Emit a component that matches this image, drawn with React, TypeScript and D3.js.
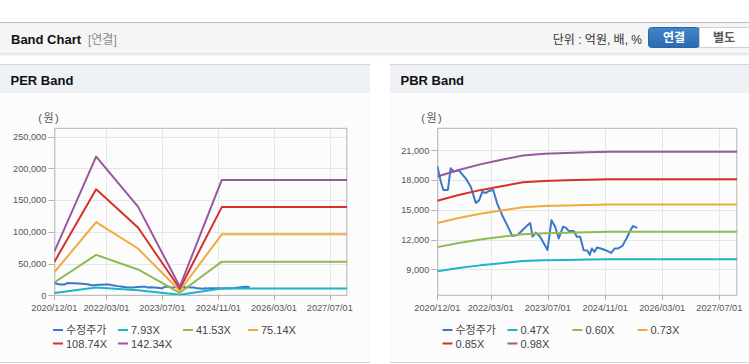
import React from 'react';
import * as d3 from 'd3';

// ---- data ----
const priceDates = [
  '2020-12-01', '2021-01-01', '2021-01-22', '2021-03-01', '2021-03-25', '2021-04-22', '2021-06-01',
  '2021-08-01', '2021-09-13', '2021-10-25', '2021-11-22', '2021-12-19', '2022-01-19', '2022-02-15',
  '2022-03-22', '2022-04-25', '2022-06-07', '2022-07-19', '2022-09-01', '2022-10-16', '2022-11-28',
  '2023-01-10', '2023-02-01', '2023-02-21', '2023-03-19', '2023-04-25', '2023-06-28', '2023-08-01',
  '2023-09-01', '2023-10-01', '2023-11-07', '2023-12-01', '2023-12-25', '2024-02-07', '2024-03-04',
  '2024-04-01', '2024-05-01', '2024-06-01', '2024-06-22', '2024-07-10', '2024-08-01', '2024-08-22',
  '2024-09-25', '2024-11-04', '2024-12-22', '2025-01-19', '2025-02-15', '2025-03-25', '2025-05-01',
  '2025-06-04', '2025-06-25', '2025-08-01',
];
const priceValues = [
  19400, 17800, 17000, 17000, 19200, 18850, 19000,
  18150, 17300, 15700, 15950, 16800, 16700, 16900,
  17000, 15650, 14450, 13450, 12350, 12450, 12950,
  13450, 13650, 12300, 12700, 12300, 10950, 13950,
  13280, 12100, 13280, 13200, 12870, 12870, 12270,
  12270, 10920, 10880, 10450, 11090, 10750, 11200,
  11090, 10920, 10650, 11090, 11090, 11330, 12100,
  12940, 13350, 13170,
];

const perDates = ['2020-12-01', '2021-12-01', '2022-12-01', '2023-12-01', '2024-12-01', '2027-12-01'];
const per793 = [3800, 12200, 7800, 760, 10600, 10600];
const per4153 = [20100, 63700, 40700, 4000, 53000, 53000];
const per7514 = [36300, 115300, 73700, 7200, 96000, 96000];
const per10874 = [52500, 166900, 106700, 10400, 138900, 138900];
const per14234 = [68700, 218500, 139700, 13600, 181700, 181700];

const pbrDates = [
  '2020-12-01', '2021-06-01', '2021-12-01', '2022-06-01', '2022-12-01',
  '2023-06-01', '2023-12-01', '2024-06-01', '2024-12-01', '2027-12-01',
];
const pbr047 = [8800, 9120, 9390, 9610, 9820, 9900, 9940, 9970, 10000, 10000];
const pbr060 = [11230, 11640, 11990, 12270, 12540, 12640, 12690, 12730, 12770, 12770];
const pbr073 = [13670, 14160, 14590, 14930, 15260, 15370, 15440, 15490, 15530, 15530];
const pbr085 = [15910, 16490, 16980, 17380, 17770, 17900, 17980, 18040, 18090, 18090];
const pbr098 = [18350, 19010, 19580, 20040, 20480, 20640, 20730, 20800, 20850, 20850];

const xTickLabels = ['2020/12/01', '2022/03/01', '2023/07/01', '2024/11/01', '2026/03/01', '2027/07/01'];
const perYTicks = [0, 50000, 100000, 150000, 200000, 250000];
const pbrYTicks = [9000, 12000, 15000, 18000, 21000];
const perLegend = ['수정주가', '7.93X', '41.53X', '75.14X', '108.74X', '142.34X'];
const pbrLegend = ['수정주가', '0.47X', '0.60X', '0.73X', '0.85X', '0.98X'];

const colors = ['#3a78c8', '#1fb4c9', '#8fbb52', '#f2a93e', '#d6302b', '#98579f'];
const FONT = '"Liberation Sans", Arial, "Noto Sans CJK KR", sans-serif';

const parse = d3.timeParse('%Y-%m-%d');
const xDomain: [Date, Date] = [parse('2020-12-01')!, parse('2027-12-01')!];

type Series = { dates: string[]; values: number[] };

const BandPanel = ({
  px, pw, title, left, right, yDomain, yTicks, series, legend,
}: {
  px: number; pw: number; title: string; left: number; right: number;
  yDomain: [number, number]; yTicks: number[]; series: Series[]; legend: string[];
}) => {
  const top = 128.3;
  const bottom = 295.3;
  const x = d3.scaleTime().domain(xDomain).range([left, right]);
  const y = d3.scaleLinear().domain(yDomain).range([bottom, top]);
  const fmt = d3.format(',');
  const tickDates = xTickLabels.map(s => d3.timeParse('%Y/%m/%d')(s)!);
  const line = d3.line<[Date, number]>().x(d => x(d[0])).y(d => y(d[1]));
  const legendX = [13, 78, 143, 208];
  const clipId = `clip-${title.replace(' ', '')}`;

  return (
    <g>
      <rect x={px} y={64} width={pw} height={299} fill="#fcfcfc" />
      <rect x={px} y={64} width={pw} height={29} fill="#eef1f6" />
      <line x1={px} x2={px + pw} y1={64.5} y2={64.5} stroke="#d4d4d4" />
      <line x1={px} x2={px + pw} y1={362.5} y2={362.5} stroke="#d4d4d4" />
      <text x={px + 10.5} y={85} fontSize={13} fontWeight="bold" fill="#111" fontFamily={FONT}>{title}</text>

      <text x={left - 5} y={121.5} fontSize={11} fill="#555" fontFamily={FONT} textAnchor="middle" letterSpacing={1.5}>(원)</text>

      {yTicks.map(t => (
        <g key={t}>
          <line x1={left} x2={right} y1={Math.round(y(t)) + 0.5} y2={Math.round(y(t)) + 0.5} stroke="#e6e6e6" />
          <line x1={left - 6} x2={left} y1={Math.round(y(t)) + 0.5} y2={Math.round(y(t)) + 0.5} stroke="#b4b4b4" />
          <text x={left - 8} y={y(t) + 3.3} fontSize={9.2} fill="#555" textAnchor="end" fontFamily={FONT}>{fmt(t)}</text>
        </g>
      ))}
      {tickDates.map((d, i) => (
        <g key={i}>
          <line x1={Math.round(x(d)) + 0.5} x2={Math.round(x(d)) + 0.5} y1={top} y2={bottom} stroke="#e6e6e6" />
          <line x1={Math.round(x(d)) + 0.5} x2={Math.round(x(d)) + 0.5} y1={bottom} y2={bottom + 5} stroke="#b4b4b4" />
          <text x={x(d)} y={310.5} fontSize={9.2} fill="#555" textAnchor="middle" fontFamily={FONT}>{xTickLabels[i]}</text>
        </g>
      ))}
      <rect x={left + 0.5} y={top} width={right - left - 1} height={bottom - top} fill="none" stroke="#b4b4b4" />

      <clipPath id={clipId}>
        <rect x={left} y={top} width={right - left} height={bottom - top} />
      </clipPath>
      <g clipPath={`url(#${clipId})`}>
        {series.map((s, i) => (
          <path
            key={i}
            d={line(s.dates.map((dt, j) => [parse(dt)!, s.values[j]] as [Date, number])) || ''}
            fill="none"
            stroke={colors[i]}
            strokeWidth={2}
            strokeLinejoin="round"
          />
        ))}
      </g>

      {legend.map((name, i) => {
        const row = i < 4 ? 0 : 1;
        const lx = px + legendX[row === 0 ? i : i - 4] + (px > 0 ? 39.5 : 40);
        const ly = row === 0 ? 330 : 343.5;
        return (
          <g key={name}>
            <line x1={lx} x2={lx + 10} y1={ly} y2={ly} stroke={colors[i]} strokeWidth={2} />
            <text x={lx + 13} y={ly + 4} fontSize={11} fill="#444" fontFamily={FONT}>{name}</text>
          </g>
        );
      })}
    </g>
  );
};

export default function App() {
  const priceSeries: Series = { dates: priceDates, values: priceValues };
  const perSeries: Series[] = [
    priceSeries,
    { dates: perDates, values: per793 },
    { dates: perDates, values: per4153 },
    { dates: perDates, values: per7514 },
    { dates: perDates, values: per10874 },
    { dates: perDates, values: per14234 },
  ];
  const pbrSeries: Series[] = [
    priceSeries,
    { dates: pbrDates, values: pbr047 },
    { dates: pbrDates, values: pbr060 },
    { dates: pbrDates, values: pbr073 },
    { dates: pbrDates, values: pbr085 },
    { dates: pbrDates, values: pbr098 },
  ];

  return (
    <div style={{ position: 'fixed', left: 0, top: 0 }}>
      <svg width={749} height={364} style={{ display: 'block', background: '#fff' }}>
        <defs>
          <linearGradient id="shadow" x1="0" x2="0" y1="0" y2="1">
            <stop offset="0" stopColor="#000" stopOpacity={0.12} />
            <stop offset="1" stopColor="#000" stopOpacity={0} />
          </linearGradient>
          <linearGradient id="btn" x1="0" x2="0" y1="0" y2="1">
            <stop offset="0" stopColor="#4285c9" />
            <stop offset="1" stopColor="#2c6aaf" />
          </linearGradient>
        </defs>

        {/* header bar */}
        <rect x={0} y={22} width={749} height={31} fill="#f5f5f5" />
        <line x1={0} x2={749} y1={22.5} y2={22.5} stroke="#bdbdbd" />
        <rect x={0} y={53} width={749} height={4} fill="url(#shadow)" />
        <text x={11} y={43.5} fontSize={13} fontWeight="bold" fill="#111" fontFamily={FONT}>Band Chart</text>
        <text x={88} y={43.5} fontSize={12} fill="#8a8a8a" fontFamily={FONT}>[연결]</text>
        <text x={642} y={43.5} fontSize={12} fill="#333" textAnchor="end" fontFamily={FONT}>단위 : 억원, 배, %</text>
        <rect x={648.5} y={27.5} width={51} height={20} rx={3} fill="url(#btn)" stroke="#2a64a6" />
        <rect x={699.5} y={27.5} width={50} height={20} fill="#fff" stroke="#cfcfcf" />
        <text x={674} y={42} fontSize={12} fontWeight="bold" fill="#fff" textAnchor="middle" fontFamily={FONT}>연결</text>
        <text x={724} y={42} fontSize={12} fontWeight="bold" fill="#555" textAnchor="middle" fontFamily={FONT}>별도</text>

        <BandPanel
          px={0} pw={370} title="PER Band" left={54.3} right={347.3}
          yDomain={[0, 263000]} yTicks={perYTicks} series={perSeries} legend={perLegend}
        />
        <BandPanel
          px={390} pw={359} title="PBR Band" left={437.3} right={737.3}
          yDomain={[6370, 23220]} yTicks={pbrYTicks} series={pbrSeries} legend={pbrLegend}
        />
      </svg>
    </div>
  );
}
